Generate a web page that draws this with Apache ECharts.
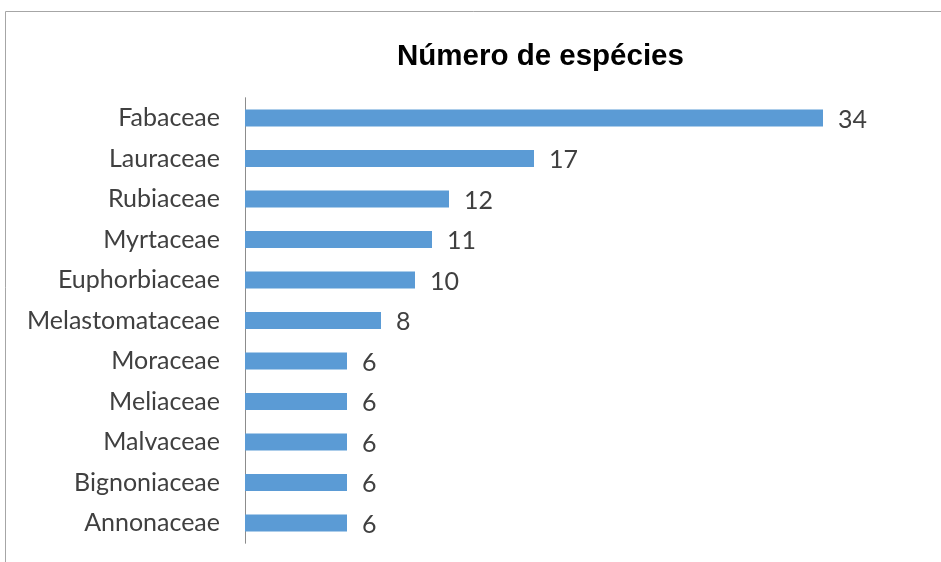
<!DOCTYPE html>
<html>
<head>
<meta charset="utf-8">
<script src="https://cdn.jsdelivr.net/npm/echarts@6/dist/echarts.min.js"></script>
<style>
  html, body { margin: 0; padding: 0; background: #ffffff; }
  #chart { width: 941px; height: 562px; }
</style>
</head>
<body>
<div id="chart"></div>
<script>
// Plant families and their species counts
const families = [
  'Fabaceae', 'Lauraceae', 'Rubiaceae', 'Myrtaceae', 'Euphorbiaceae',
  'Melastomataceae', 'Moraceae', 'Meliaceae', 'Malvaceae', 'Bignoniaceae', 'Annonaceae'
];
const speciesCount = [34, 17, 12, 11, 10, 8, 6, 6, 6, 6, 6];
const chartTitle = 'Número de espécies';

const chart = echarts.init(document.getElementById('chart'));

chart.setOption({
  animation: false,
  backgroundColor: '#ffffff',
  title: {
    text: chartTitle,
    left: 397,
    top: 42,
    padding: 0,
    textStyle: {
      fontFamily: 'Liberation Sans, Arial, sans-serif',
      fontWeight: 'bold',
      fontSize: 29.5,
      color: '#000000'
    }
  },
  graphic: [{
    type: 'rect',
    shape: { x: 5.5, y: 11.5, width: 1000, height: 600 },
    style: { fill: 'none', stroke: '#a6a6a6', lineWidth: 1 },
    silent: true
  }],
  grid: {
    left: 245,
    top: 97.75,
    width: 680,
    height: 445.5
  },
  xAxis: {
    type: 'value',
    min: 0,
    max: 40,
    show: false
  },
  yAxis: {
    type: 'category',
    inverse: true,
    data: families,
    axisLine: { show: true, lineStyle: { color: '#8c8c8c', width: 1 } },
    axisTick: { show: false },
    axisLabel: {
      margin: 25,
      fontFamily: 'Lato, sans-serif',
      fontSize: 25,
      color: '#404040'
    }
  },
  series: [{
    type: 'bar',
    data: speciesCount,
    barWidth: 17,
    itemStyle: { color: '#5b9bd5' },
    label: {
      show: true,
      position: 'right',
      distance: 15,
      offset: [0, 1.5],
      fontFamily: 'Lato, sans-serif',
      fontSize: 25,
      color: '#404040'
    }
  }]
});
</script>
</body>
</html>
